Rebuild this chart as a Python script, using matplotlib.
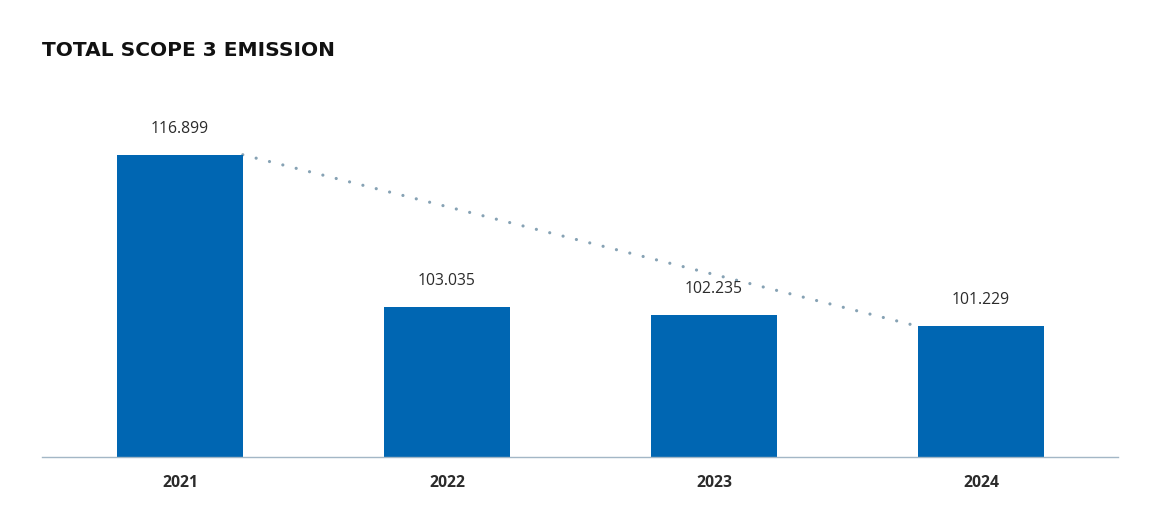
import matplotlib.pyplot as plt

# datos
years = ['2021', '2022', '2023', '2024']
emissions = [116.899, 103.035, 102.235, 101.229]
value_labels = ['116.899', '103.035', '102.235', '101.229']

bar_color = '#0066b2'
text_color = '#2b2b2b'

fig = plt.figure(figsize=(11.75, 5.27), dpi=100)
ax = fig.add_axes([42 / 1175, 70 / 527, 1076 / 1175, 357 / 527])

x = range(len(years))
width = 0.47
ax.bar(x, emissions, width=width, color=bar_color, zorder=2)

# linea de tendencia punteada (del primer al ultimo anio)
ax.plot([0 + width / 2, len(years) - 1 - width / 2], [emissions[0], emissions[-1]],
        linestyle=(0, (0.01, 4.3)), linewidth=2.3, color='#86a2b4',
        dash_capstyle='round', zorder=1)

for i, v in enumerate(emissions):
    ax.annotate(value_labels[i], (i, v), xytext=(0, 13), textcoords='offset points',
                ha='center', va='bottom', fontsize=11.3, color=text_color,
                family='Open Sans')

ax.set_xlim(-0.517, 3.513)
ax.set_ylim(89.3, 121.9)
ax.set_xticks(list(x))
ax.set_xticklabels(years, fontsize=11.3, fontweight='bold', color=text_color,
                   family='Open Sans')
ax.tick_params(axis='x', length=0, pad=13)
ax.set_yticks([])

for s in ['top', 'right', 'left']:
    ax.spines[s].set_visible(False)
ax.spines['bottom'].set_color('#a3b7c6')
ax.spines['bottom'].set_linewidth(1.0)

fig.text(42 / 1175, 1 - 50 / 527, 'TOTAL SCOPE 3 EMISSION', fontsize=14.5,
         fontweight='bold', color='#111111', family='DejaVu Sans', va='center')

fig.savefig('out.png', dpi=100, facecolor='white')
